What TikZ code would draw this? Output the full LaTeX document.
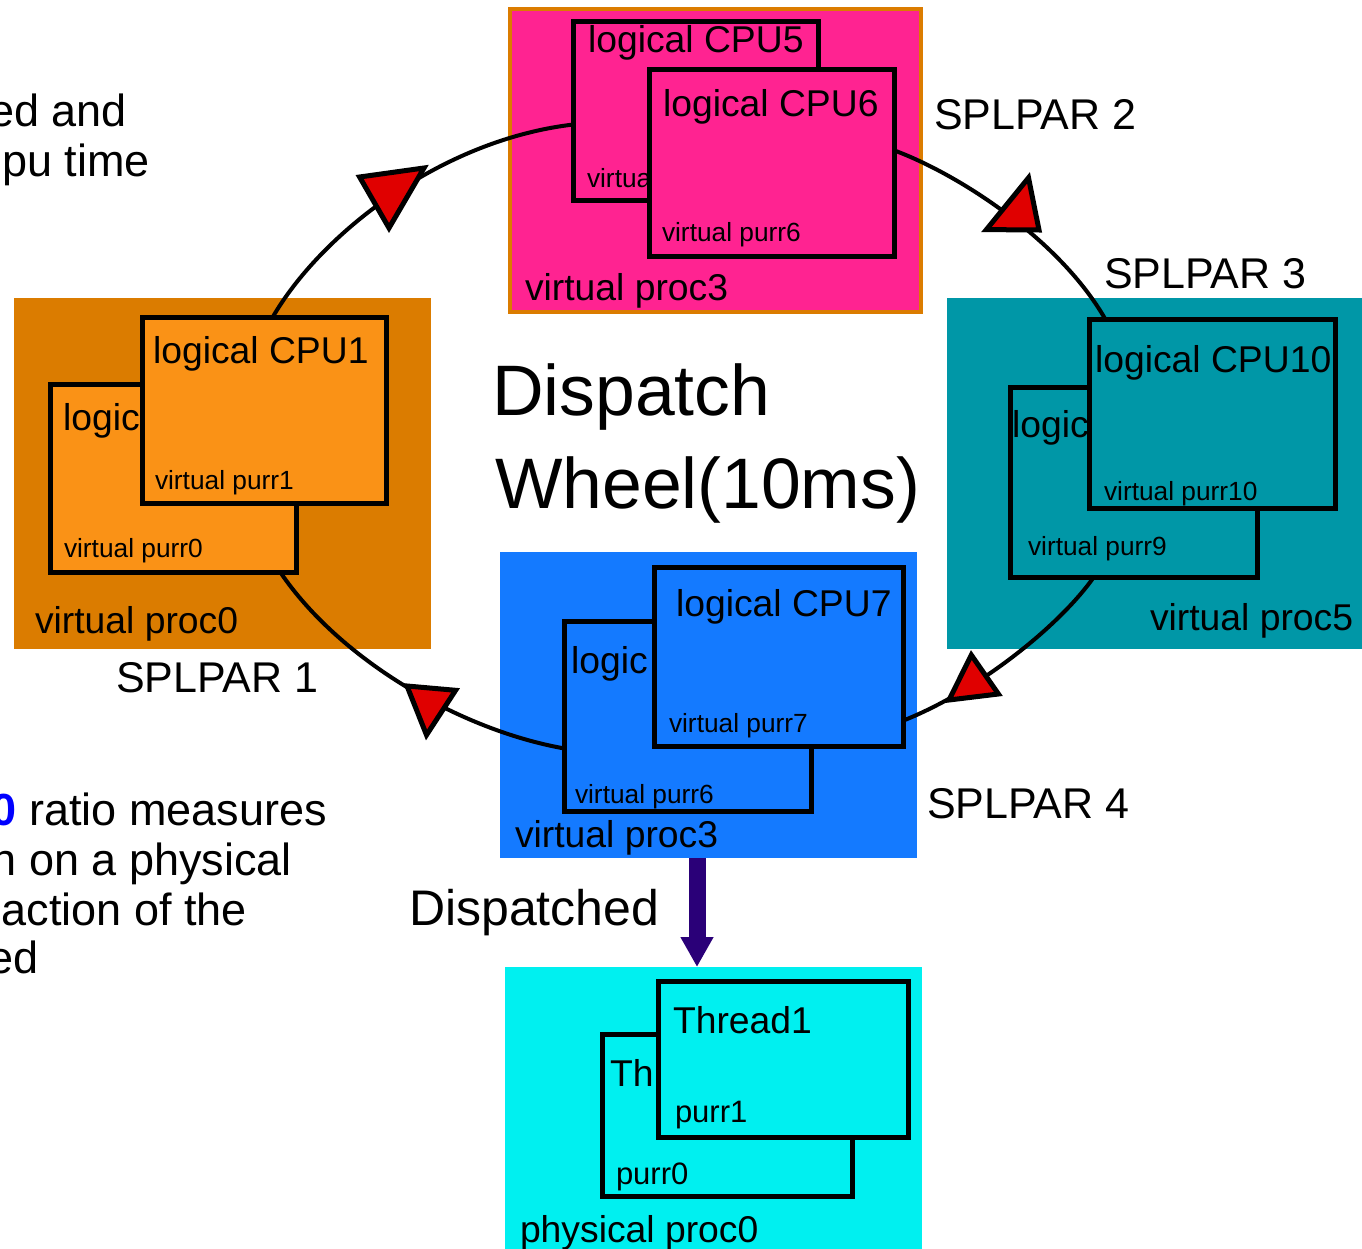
\documentclass[tikz,border=0pt]{standalone}
\usepackage{fontspec}
\setmainfont{Liberation Sans}
\usetikzlibrary{calc,arrows.meta}
\pgfdeclarelayer{bglayer}
\pgfdeclarelayer{arclayer}
\pgfsetlayers{bglayer,arclayer,main}
\definecolor{cPink}{RGB}{255,35,145}
\definecolor{cOrgBg}{RGB}{219,124,0}
\definecolor{cOrgIn}{RGB}{250,146,22}
\definecolor{cTeal}{RGB}{0,151,167}
\definecolor{cBlue}{RGB}{20,122,255}
\definecolor{cCyan}{RGB}{0,240,240}
\definecolor{cRed}{RGB}{224,0,0}
\definecolor{cInd}{RGB}{42,0,120}
\definecolor{cNum}{RGB}{0,0,255}
\begin{document}
\begin{tikzpicture}[x=1pt,y=-1pt,
  txt/.style={anchor=base west, inner sep=0pt, outer sep=0pt},
  fa/.style={txt, font=\fontsize{37.3}{42}\selectfont},
  fb/.style={txt, font=\fontsize{26.3}{30}\selectfont},
  fc/.style={txt, font=\fontsize{37.3}{42}\selectfont},
  fsp/.style={txt, font=\fontsize{43}{48}\selectfont},
  fbig/.style={txt, font=\fontsize{71.5}{80}\selectfont},
  fmid/.style={txt, font=\fontsize{50}{56}\selectfont},
  fside/.style={inner sep=0pt, outer sep=0pt, anchor=base east, font=\fontsize{45}{50}\selectfont},
  fpurr/.style={txt, font=\fontsize{31}{35}\selectfont},
  cbox/.style={draw=black, line width=5pt, line join=miter, anchor=north west, inner sep=0pt, outer sep=0pt},
  bgbox/.style={anchor=north west, inner sep=0pt, outer sep=0pt},
  wheel/.style={line width=4pt, draw=black},
  tri/.style={draw=black, fill=cRed, line width=5pt, line join=miter},
  disp/.style={line width=17pt, draw=cInd, -{Triangle[length=30pt,width=31pt]}}
]
\useasboundingbox (0,0) rectangle (1362,1249);
\clip (0,0) rectangle (1362,1249);

% ---------- backgrounds ----------
\begin{pgfonlayer}{bglayer}
\node[bgbox, fill=cPink, draw=cOrgBg, line width=4pt, minimum width=411pt, minimum height=303pt] (pinkbg) at (510,9) {};
\node[bgbox, fill=cOrgBg, minimum width=417pt, minimum height=351pt] (orangebg) at (14,298) {};
\node[bgbox, fill=cTeal, minimum width=418pt, minimum height=351pt] (tealbg) at (947,298) {};
\node[bgbox, fill=cBlue, minimum width=417pt, minimum height=306pt] (bluebg) at (500,552) {};
\node[bgbox, fill=cCyan, minimum width=417pt, minimum height=290pt] (cyanbg) at (505,967) {};
\end{pgfonlayer}

% ---------- pink group ----------
\node[cbox, fill=cPink, minimum width=245pt, minimum height=179pt] (cpu5) at (573.5,21.5) {};
\node[fa] (t5) at (588,53) {logical CPU5};
\node[fb] (t5b) at (587,188) {virtua};
\node[cbox, fill=cPink, minimum width=245pt, minimum height=187pt] (cpu6) at (649.5,69.5) {};
\node[fa] (t6) at (663,117) {logical CPU6};
\node[fb] (t6b) at (662,242) {virtual purr6};
\node[fc] (tp3) at (525,300) {virtual proc3};
\node[fsp] (sp2) at (934,130) {SPLPAR 2};

% ---------- orange group ----------
\node[cbox, fill=cOrgIn, minimum width=246pt, minimum height=188pt] (cpu0) at (50.5,384.5) {};
\node[fa] (t0) at (63,430) {logic};
\node[fb] (t0b) at (64,557) {virtual purr0};
\node[cbox, fill=cOrgIn, minimum width=244pt, minimum height=186pt] (cpu1) at (142.5,317.5) {};
\node[fa] (t1) at (153,363) {logical CPU1};
\node[fb] (t1b) at (155,489) {virtual purr1};
\node[fc] (tp0) at (35,633) {virtual proc0};
\node[fsp] (sp1) at (116,692) {SPLPAR 1};

% ---------- teal group ----------
\node[cbox, fill=cTeal, minimum width=247pt, minimum height=190pt] (cpu9) at (1010.5,387.5) {};
\node[fa] (t9) at (1012,437) {logic};
\node[fb] (t9b) at (1028,555) {virtual purr9};
\node[cbox, fill=cTeal, minimum width=246pt, minimum height=189pt] (cpu10) at (1089.5,319.5) {};
\node[fa] (t10) at (1095,372) {logical CPU10};
\node[fb] (t10b) at (1104,500) {virtual purr10};
\node[fc] (tp5) at (1150,630) {virtual proc5};
\node[fsp] (sp3) at (1104,288) {SPLPAR 3};

% ---------- blue group ----------
\node[cbox, fill=cBlue, minimum width=247pt, minimum height=190pt] (cpu6b) at (564.5,621.5) {};
\node[fa] (t6c) at (571,673) {logic};
\node[fb] (t6d) at (575,803) {virtual purr6};
\node[cbox, fill=cBlue, minimum width=249pt, minimum height=179pt] (cpu7) at (654.5,567.5) {};
\node[fa] (t7) at (676,616) {logical CPU7};
\node[fb] (t7b) at (669,732) {virtual purr7};
\node[fc] (tp3b) at (515,847) {virtual proc3};
\node[fsp] (sp4) at (927,818) {SPLPAR 4};

% ---------- cyan group ----------
\node[cbox, fill=cCyan, minimum width=250pt, minimum height=162pt] (th0) at (602.5,1034.5) {};
\node[fc] (tth0) at (610,1086) {Th};
\node[fpurr] (tpu0) at (616,1184) {purr0};
\node[cbox, fill=cCyan, minimum width=250pt, minimum height=156pt] (th1) at (658.5,981.5) {};
\node[fc] (tth1) at (673,1033) {Thread1};
\node[fpurr] (tpu1) at (675,1122) {purr1};
\node[fc] (tpp) at (520,1242) {physical proc0};

% ---------- centre and side texts ----------
\node[fbig] (dw1) at (492,415) {Dispatch};
\node[fbig] (dw2) at (495,508) {Wheel(10ms)};
\node[fmid] (dsp) at (409,925) {Dispatched};

\node[fside] (l1) at (127,127) {ed and};
\node[fside] (l2) at (150,177) {pu time};
\node[fside] (l3) at (327,825) {{\bfseries\color{cNum}0} ratio measures};
\node[fside] (l4) at (292,875) {n on a physical};
\node[fside] (l5) at (247,925) {action of the};
\node[fside] (l6) at (39,973) {ed};

% ---------- wheel arcs ----------
\begin{pgfonlayer}{arclayer}
\draw[wheel] ($(cpu1.north west)+(130,0)$) .. controls (320,235) and (440,140) .. ($(cpu5.north west)+(0,103)$);
\draw[wheel] ($(cpu6.north east)+(0,81)$) .. controls (960,175) and (1060,240) .. ($(cpu10.north west)+(16,0)$);
\draw[wheel] ($(cpu9.south west)+(83,0)$) .. controls (1060,625) and (980,690) .. ($(cpu7.south east)+(0,-26)$);
\draw[wheel] ($(cpu6b.north west)+(0,127)$) .. controls (460,730) and (340,660) .. ($(cpu0.south west)+(230,0)$);
\end{pgfonlayer}

% ---------- arrow heads on the wheel ----------
\draw[tri] (359.6,177) -- (424,168) -- (389,228) -- cycle;
\draw[tri] (1028.5,177.8) -- (986.4,229.6) -- (1039,230) -- cycle;
\draw[tri] (971.3,655) -- (949,700) -- (998.4,694) -- cycle;
\draw[tri] (407,686) -- (455.6,690.3) -- (426.5,735) -- cycle;

% ---------- dispatch arrow ----------
\coordinate (ax) at (697,0);
\draw[disp] (bluebg.south -| ax) -- (cyanbg.north -| ax);
\end{tikzpicture}
\end{document}
